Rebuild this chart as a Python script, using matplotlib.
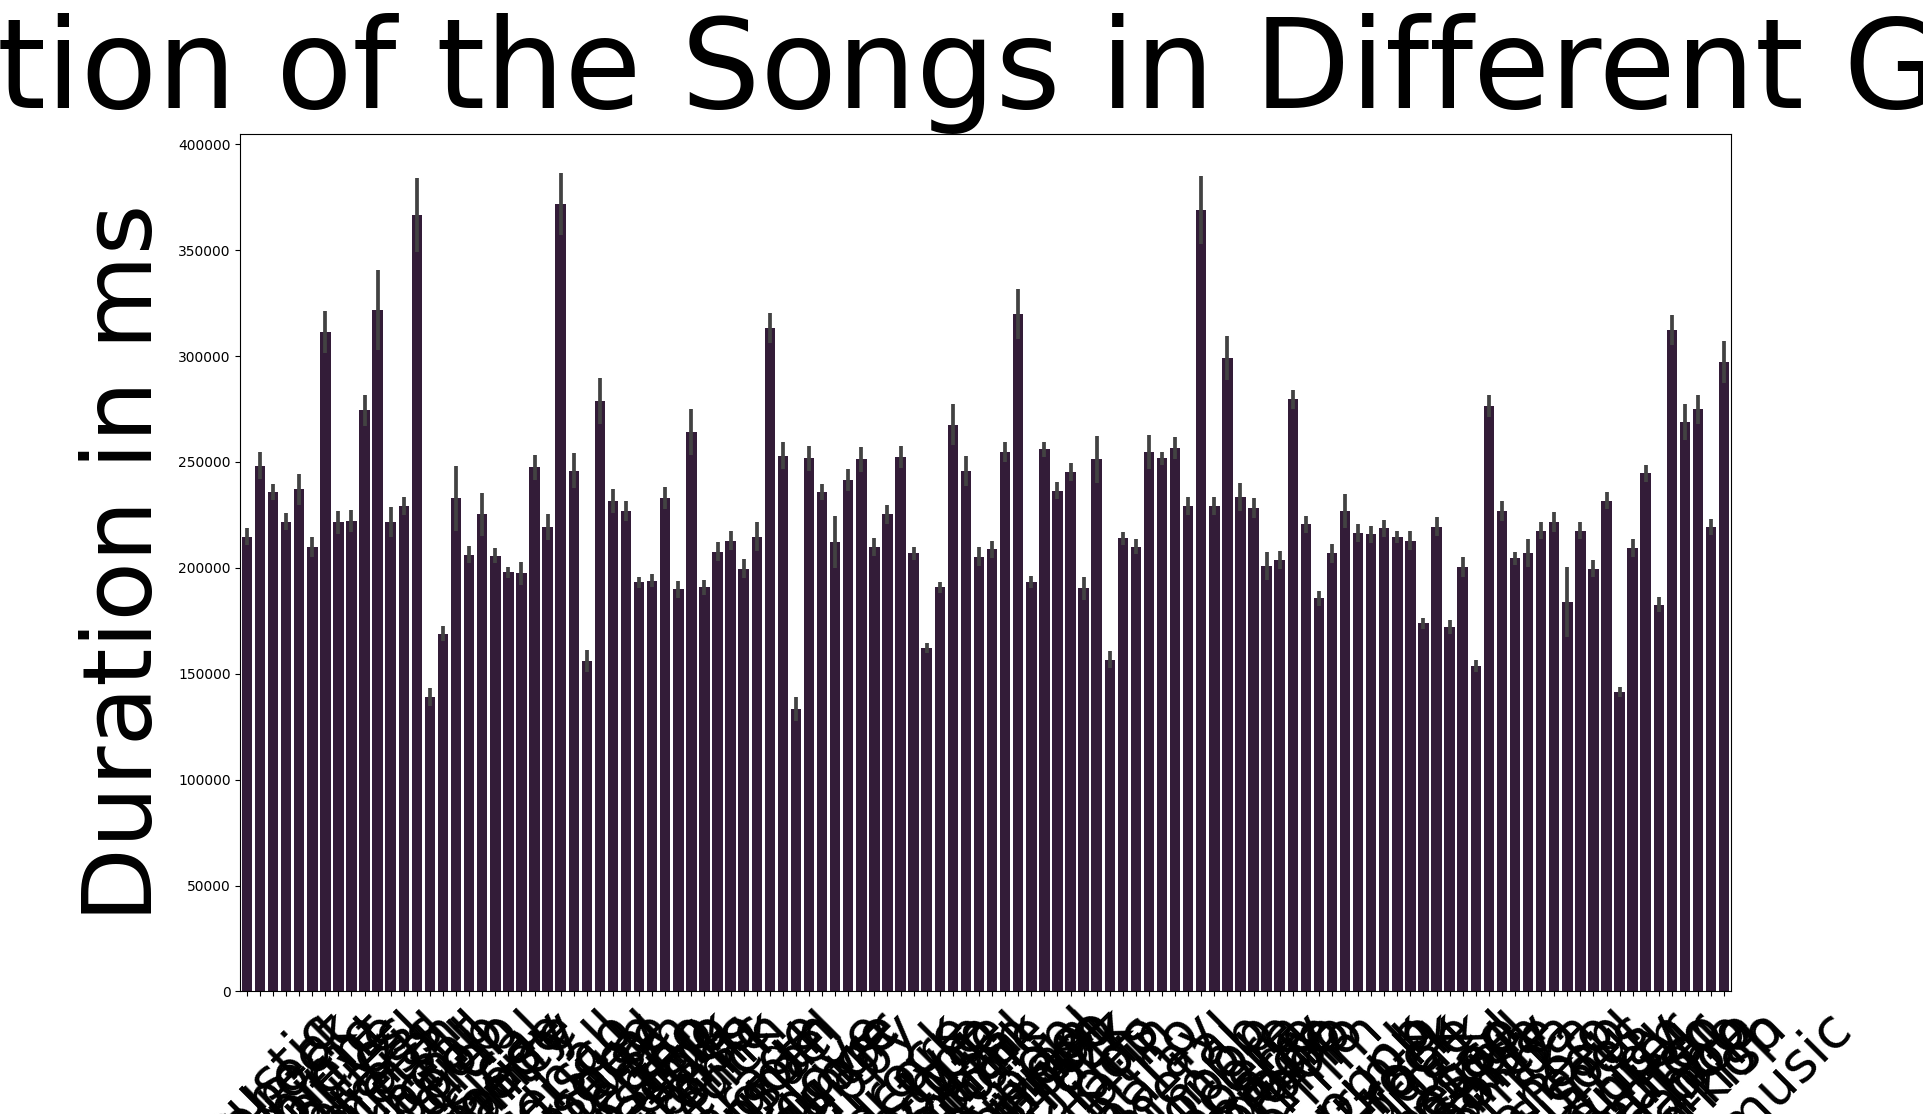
import matplotlib
matplotlib.use("Agg")
import matplotlib.pyplot as plt
import numpy as np

# genres in the order they appear in the dataset
genres = ["acoustic", "afrobeat", "alt-rock", "alternative", "ambient", "anime",
          "black-metal", "bluegrass", "blues", "brazil", "breakbeat", "british",
          "cantopop", "chicago-house", "children", "chill", "classical", "club",
          "comedy", "country", "dance", "dancehall", "death-metal", "deep-house",
          "detroit-techno", "disco", "disney", "drum-and-bass", "dub", "dubstep",
          "edm", "electro", "electronic", "emo", "folk", "forro", "french", "funk",
          "garage", "german", "gospel", "goth", "grindcore", "groove", "grunge",
          "guitar", "happy", "hard-rock", "hardcore", "hardstyle", "heavy-metal",
          "hip-hop", "honky-tonk", "house", "idm", "indian", "indie-pop", "indie",
          "industrial", "iranian", "j-dance", "j-idol", "j-pop", "j-rock", "jazz",
          "k-pop", "kids", "latin", "latino", "malay", "mandopop", "metal",
          "metalcore", "minimal-techno", "mpb", "new-age", "opera", "pagode",
          "party", "piano", "pop-film", "pop", "power-pop", "progressive-house",
          "psych-rock", "punk-rock", "punk", "r-n-b", "reggae", "reggaeton",
          "rock-n-roll", "rock", "rockabilly", "romance", "sad", "salsa", "samba",
          "sertanejo", "show-tunes", "singer-songwriter", "ska", "sleep",
          "songwriter", "soul", "spanish", "study", "swedish", "synth-pop", "tango",
          "techno", "trance", "trip-hop", "turkish", "world-music"]

# mean duration_ms per genre
mean_ms = [214700, 248300, 235700, 221800, 237000, 210000, 311300, 221500, 222300, 274500,
           321800, 221500, 229100, 366700, 139100, 169000, 232800, 206300, 225200, 205800,
           197900, 197400, 247500, 219200, 371900, 245900, 156200, 278700, 231500, 226800,
           193200, 194000, 232800, 189800, 264000, 190800, 207600, 212900, 199700, 214700,
           313100, 253000, 133300, 251700, 235700, 212300, 241700, 251200, 209700, 225200,
           252200, 206800, 162200, 190800, 267500, 245700, 205300, 208700, 254600, 319900,
           193400, 255900, 236500, 245100, 190300, 251200, 156700, 213900, 210000, 254600,
           251700, 256400, 229100, 369000, 229100, 299000, 233300, 228100, 201100, 203900,
           279500, 220500, 185600, 206800, 226800, 216300, 215800, 218600, 214700, 212900,
           173800, 219400, 172200, 200300, 153800, 276400, 226800, 204500, 206800, 217600,
           221500, 184000, 217600, 199700, 231800, 141500, 209200, 244600, 182700, 312300,
           268800, 274800, 219400, 297100]

# half width of the 95% confidence interval
ci_ms = [3900, 6300, 3700, 3900, 7100, 4700, 10000, 5500, 5200, 7300,
         18900, 7100, 4200, 17600, 4200, 3700, 15200, 4200, 10000, 3400,
         2600, 5500, 6000, 6000, 14700, 8100, 5200, 10800, 5500, 4700,
         2600, 2900, 5200, 4200, 10800, 3700, 4500, 4700, 4700, 6800,
         7100, 6300, 5800, 6000, 3700, 12300, 5200, 5800, 4200, 4700,
         5200, 3100, 2400, 2600, 9700, 7100, 4500, 4200, 4700, 11800,
         2900, 3400, 3900, 4200, 5500, 11000, 4200, 2900, 3400, 8100,
         2900, 5200, 4200, 16000, 4200, 10500, 6600, 4700, 6600, 4200,
         4700, 3900, 3700, 4700, 7900, 4200, 4200, 4200, 2900, 4700,
         2600, 4500, 3400, 4700, 2900, 5200, 4700, 3100, 6600, 4200,
         4700, 16500, 3900, 4200, 3900, 2400, 4200, 4200, 3700, 7100,
         8400, 6800, 3900, 10000]

fig, ax = plt.subplots(figsize=(19.23, 11.14), dpi=100)

x = np.arange(len(genres))
ax.bar(x, mean_ms, width=0.8, color="#331c38",
       yerr=ci_ms, ecolor="#424242", error_kw={"elinewidth": 2.7, "capsize": 0})
ax.set_xlim(-0.5, len(genres) - 0.5)
ax.set_ylim(0, 405000)
ax.set_xticks(x)
ax.set_xticklabels(genres, rotation=45, fontsize=40)

ax.set_title("Distribution of the Songs in Different Genres", fontsize=90, x=0.441)
ax.set_ylabel("Duration in ms", fontsize=70)

plt.savefig("out.png")
